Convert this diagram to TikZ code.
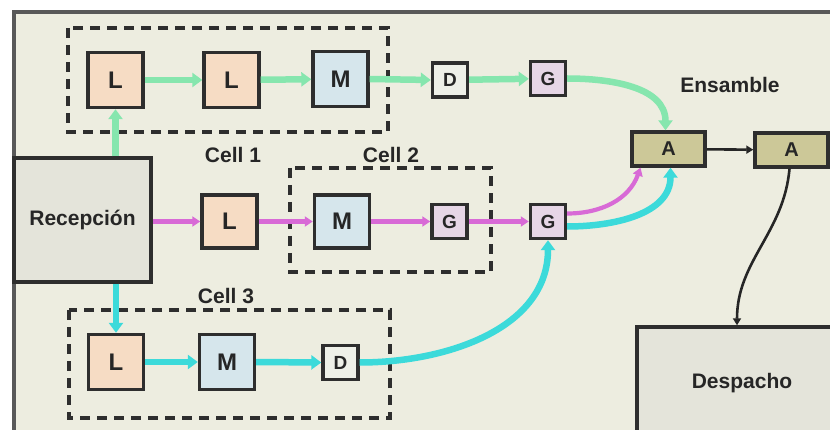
\documentclass[tikz,border=0pt]{standalone}
\usepackage{fontspec}
\setmainfont{Liberation Sans}
\usetikzlibrary{arrows.meta}
\definecolor{bgframe}{HTML}{EDEDE0}
\definecolor{edge}{HTML}{2E2E2E}
\definecolor{lfill}{HTML}{F6DCC4}
\definecolor{mfill}{HTML}{D6E6EC}
\definecolor{gfill}{HTML}{E6D6E6}
\definecolor{dfill}{HTML}{EEF0E8}
\definecolor{afill}{HTML}{CCC898}
\definecolor{recfill}{HTML}{E4E4DA}
\definecolor{mint}{HTML}{86E6AE}
\definecolor{aqua}{HTML}{3CDADA}
\definecolor{pinkflow}{HTML}{D86AD6}
\tikzset{
  box/.style={draw=edge, line width=3.4pt, font=\bfseries, text=black!85},
  bigbox/.style={box, minimum width=55pt, minimum height=55pt, font=\bfseries\fontsize{24}{24}\selectfont},
  smallbox/.style={box, fill=dfill, minimum width=35pt, minimum height=34pt, font=\bfseries\fontsize{19}{19}\selectfont},
  abox/.style={box, fill=afill, minimum width=73pt, minimum height=34pt, font=\bfseries\fontsize{20}{20}\selectfont},
  cellframe/.style={draw=edge, line width=3.2pt, dash pattern=on 10pt off 7pt},
  lbl/.style={font=\bfseries\fontsize{21}{21}\selectfont, text=black!85},
  mintflow/.style={draw=mint, line width=6.5pt, -{Triangle[length=10pt,width=14pt]}},
  aquaflow/.style={draw=aqua, line width=6.5pt, -{Triangle[length=10pt,width=14pt]}},
  pinkflow/.style={draw=pinkflow, line width=4.2pt, -{Triangle[length=8pt,width=10pt]}},
  darkflow/.style={draw=black!85, line width=2.6pt, -{Triangle[length=7pt,width=8pt]}},
}
\begin{document}
\begin{tikzpicture}[x=1pt, y=-1pt]
\useasboundingbox (0,0) rectangle (830,430);
\clip (0,0) rectangle (830,430);
\fill[white] (0,0) rectangle (830,430);
% outer frame
\draw[fill=bgframe, draw=black!65, line width=3.4pt] (14,12) rectangle (850,450);

% cell frames
\draw[cellframe] (68,28) rectangle (388,132);
\draw[cellframe] (290,168) rectangle (491,272);
\draw[cellframe] (69,310) rectangle (390,418);

% labels
\node[lbl] (c1) at (233,155) {Cell 1};
\node[lbl] (c2) at (391,155) {Cell 2};
\node[lbl] (c3) at (226,296) {Cell 3};
\node[lbl] (ens) at (730,85) {Ensamble};

% reception and dispatch
\node[box, fill=recfill, minimum width=137pt, minimum height=124pt, font=\bfseries\fontsize{21}{21}\selectfont] (rec) at (82.5,220) {Recepción};
\node[box, fill=recfill, minimum width=210pt, minimum height=112pt, font=\bfseries\fontsize{21}{21}\selectfont] (desp) at (742,383) {Despacho};

% line 1
\node[bigbox, fill=lfill] (l1) at (115.5,80) {L};
\node[bigbox, fill=lfill] (l2) at (231.5,80) {L};
\node[bigbox, fill=mfill] (m1) at (340.5,79) {M};
\node[smallbox] (d1) at (450,80) {D};
\node[smallbox, fill=gfill] (g1) at (548,78.5) {G};

% line 2
\node[bigbox, fill=lfill, minimum height=53pt] (l2b) at (229.5,221.5) {L};
\node[bigbox, fill=mfill, minimum height=53pt] (m2) at (342,221.5) {M};
\node[smallbox, fill=gfill] (g2) at (449.5,221.5) {G};
\node[smallbox, fill=gfill] (g3) at (548,221.5) {G};

% line 3
\node[bigbox, fill=lfill] (l3) at (116,362) {L};
\node[bigbox, fill=mfill] (m3) at (227,362) {M};
\node[smallbox] (d3) at (340.5,362.5) {D};

% assembly
\node[abox] (a1) at (668.5,149) {A};
\node[abox] (a2) at (791.5,150) {A};

% mint flow
\draw[mintflow] (rec.north -| l1) -- (l1.south);
\draw[mintflow] (l1) -- (l2);
\draw[mintflow] (l2) -- (m1);
\draw[mintflow] (m1.east) -- (d1.west);
\draw[mintflow] (d1) -- (g1);
\draw[mintflow] (g1.east) to[out=0, in=90] ([xshift=-3pt]a1.north);

% pink flow
\draw[pinkflow] (rec.east |- l2b) -- (l2b.west);
\draw[pinkflow] (l2b) -- (m2);
\draw[pinkflow] (m2) -- (g2);
\draw[pinkflow] (g2) -- (g3);
\draw[pinkflow] ([yshift=8pt]g3.east) to[out=0, in=-110] ([xshift=-28pt]a1.south);

% aqua flow
\draw[aquaflow] (rec.south -| l3) -- (l3.north);
\draw[aquaflow] (l3) -- (m3);
\draw[aquaflow] (m3.east) -- (d3.west);
\draw[aquaflow] (d3.east) to[out=0, in=-90] (g3.south);
\draw[aquaflow] ([yshift=-5pt]g3.east) to[out=0, in=-90] ([xshift=2pt]a1.south);

% assembly to dispatch
\draw[darkflow] (a1) -- (a2);
\draw[darkflow] ([xshift=-2pt]a2.south) to[out=-95, in=90] ([xshift=-5pt]desp.north);
\end{tikzpicture}
\end{document}
